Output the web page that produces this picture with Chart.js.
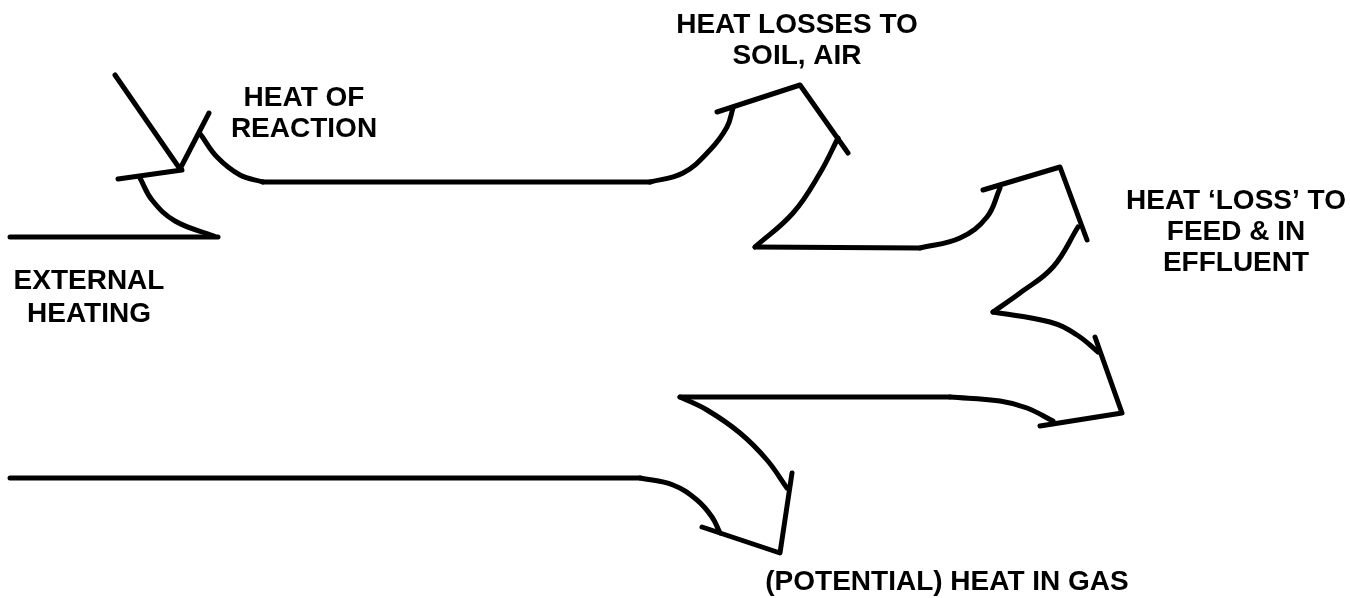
<!DOCTYPE html>
<html>
<head>
<meta charset="utf-8">
<script src="https://cdn.jsdelivr.net/npm/chart.js@4.4.1/dist/chart.umd.min.js"></script>
<style>
  html, body { margin: 0; padding: 0; background: #fff; }
  .wrap { width: 1350px; height: 598px; position: relative; }
</style>
</head>
<body>
<div class="wrap"><canvas id="flowChart"></canvas></div>
<script>
// outline strokes of the heat balance arrows, as [x, y] points
const externalLine   = [[10, 237], [218, 237]];
const externalCurve  = [[214, 236], [175, 221], [152, 200], [140, 178]];
const externalBarb   = [[118, 179], [182, 170]];
const reactionIn     = [[115, 75], [180, 169], [209, 113]];
const reactionCurve  = [[201, 135], [217, 157], [240, 175], [263, 182]];
const mainTop        = [[263, 182], [650, 182]];
const soilCurve      = [[650, 182], [683, 173], [710, 150], [727, 127], [733, 108]];
const soilBarb       = [[717, 112], [800, 85], [848, 153]];
const soilReturn     = [[838, 138], [820, 173], [793, 213], [755, 247]];
const feedTop        = [[755, 247], [920, 248]];
const feedCurve      = [[920, 248], [960, 238], [987, 217], [1000, 188]];
const feedBarb       = [[983, 190], [1060, 167], [1087, 240]];
const feedReturn     = [[1078, 227], [1053, 267], [1020, 293], [993, 312]];
const effluentCurve  = [[993, 312], [1050, 322], [1077, 335], [1098, 352]];
const effluentBarb   = [[1095, 337], [1122, 413], [1040, 426]];
const gasTop         = [[680, 397], [950, 397]];
const gasCurve       = [[950, 397], [1000, 401], [1027, 408], [1053, 421]];
const potentialCurve = [[680, 397], [707, 410], [740, 433], [767, 460], [787, 488]];
const potentialBarb  = [[792, 473], [780, 553], [702, 527]];
const mainBottom     = [[10, 478], [640, 478]];
const bottomCurve    = [[640, 478], [673, 485], [697, 500], [712, 517], [720, 533]];

const straightStrokes = [externalLine, externalBarb, reactionIn, mainTop, soilBarb, feedTop,
                         feedBarb, effluentBarb, gasTop, potentialBarb, mainBottom];
const curvedStrokes = [externalCurve, reactionCurve, soilCurve, soilReturn, feedCurve,
                       feedReturn, effluentCurve, gasCurve, potentialCurve, bottomCurve];

// labels
const labelLines = [
  ['HEAT OF', 'REACTION'],
  ['HEAT LOSSES TO', 'SOIL, AIR'],
  ['HEAT \u2018LOSS\u2019 TO', 'FEED & IN', 'EFFLUENT'],
  ['EXTERNAL', 'HEATING'],
  ['(POTENTIAL) HEAT IN GAS']
];
const labelAnchors = [[304, 98], [797, 25], [1236, 201], [89, 281], [947, 582]];
const labelSpacing = [31, 31, 31, 33, 0];

function toPoints(stroke) {
  return stroke.map(p => ({ x: p[0], y: p[1] }));
}

const datasets = [];
straightStrokes.forEach(s => datasets.push({ data: toPoints(s), tension: 0 }));
curvedStrokes.forEach(s => datasets.push({ data: toPoints(s), tension: 0.4 }));
datasets.forEach(d => {
  d.showLine = true;
  d.borderColor = '#000';
  d.borderWidth = 5;
  d.pointRadius = 0;
  d.borderCapStyle = 'round';
  d.borderJoinStyle = 'round';
  d.clip = false;
});

const labelPlugin = {
  id: 'labels',
  afterDraw(chart) {
    const ctx = chart.ctx;
    const xs = chart.scales.x, ys = chart.scales.y;
    ctx.save();
    ctx.fillStyle = '#000';
    ctx.font = 'bold 28px "Liberation Sans", Arial, sans-serif';
    ctx.textAlign = 'center';
    ctx.textBaseline = 'middle';
    labelLines.forEach((lines, i) => {
      const cx = xs.getPixelForValue(labelAnchors[i][0]);
      lines.forEach((t, j) => {
        const cy = ys.getPixelForValue(labelAnchors[i][1] + j * labelSpacing[i]);
        ctx.fillText(t, cx, cy);
      });
    });
    ctx.restore();
  }
};

new Chart(document.getElementById('flowChart'), {
  type: 'scatter',
  data: { datasets: datasets },
  options: {
    responsive: true,
    maintainAspectRatio: false,
    animation: false,
    layout: { padding: 0 },
    plugins: { legend: { display: false }, tooltip: { enabled: false } },
    scales: {
      x: { type: 'linear', min: 0, max: 1350, display: false },
      y: { type: 'linear', min: 0, max: 598, reverse: true, display: false }
    }
  },
  plugins: [labelPlugin]
});
</script>
</body>
</html>
